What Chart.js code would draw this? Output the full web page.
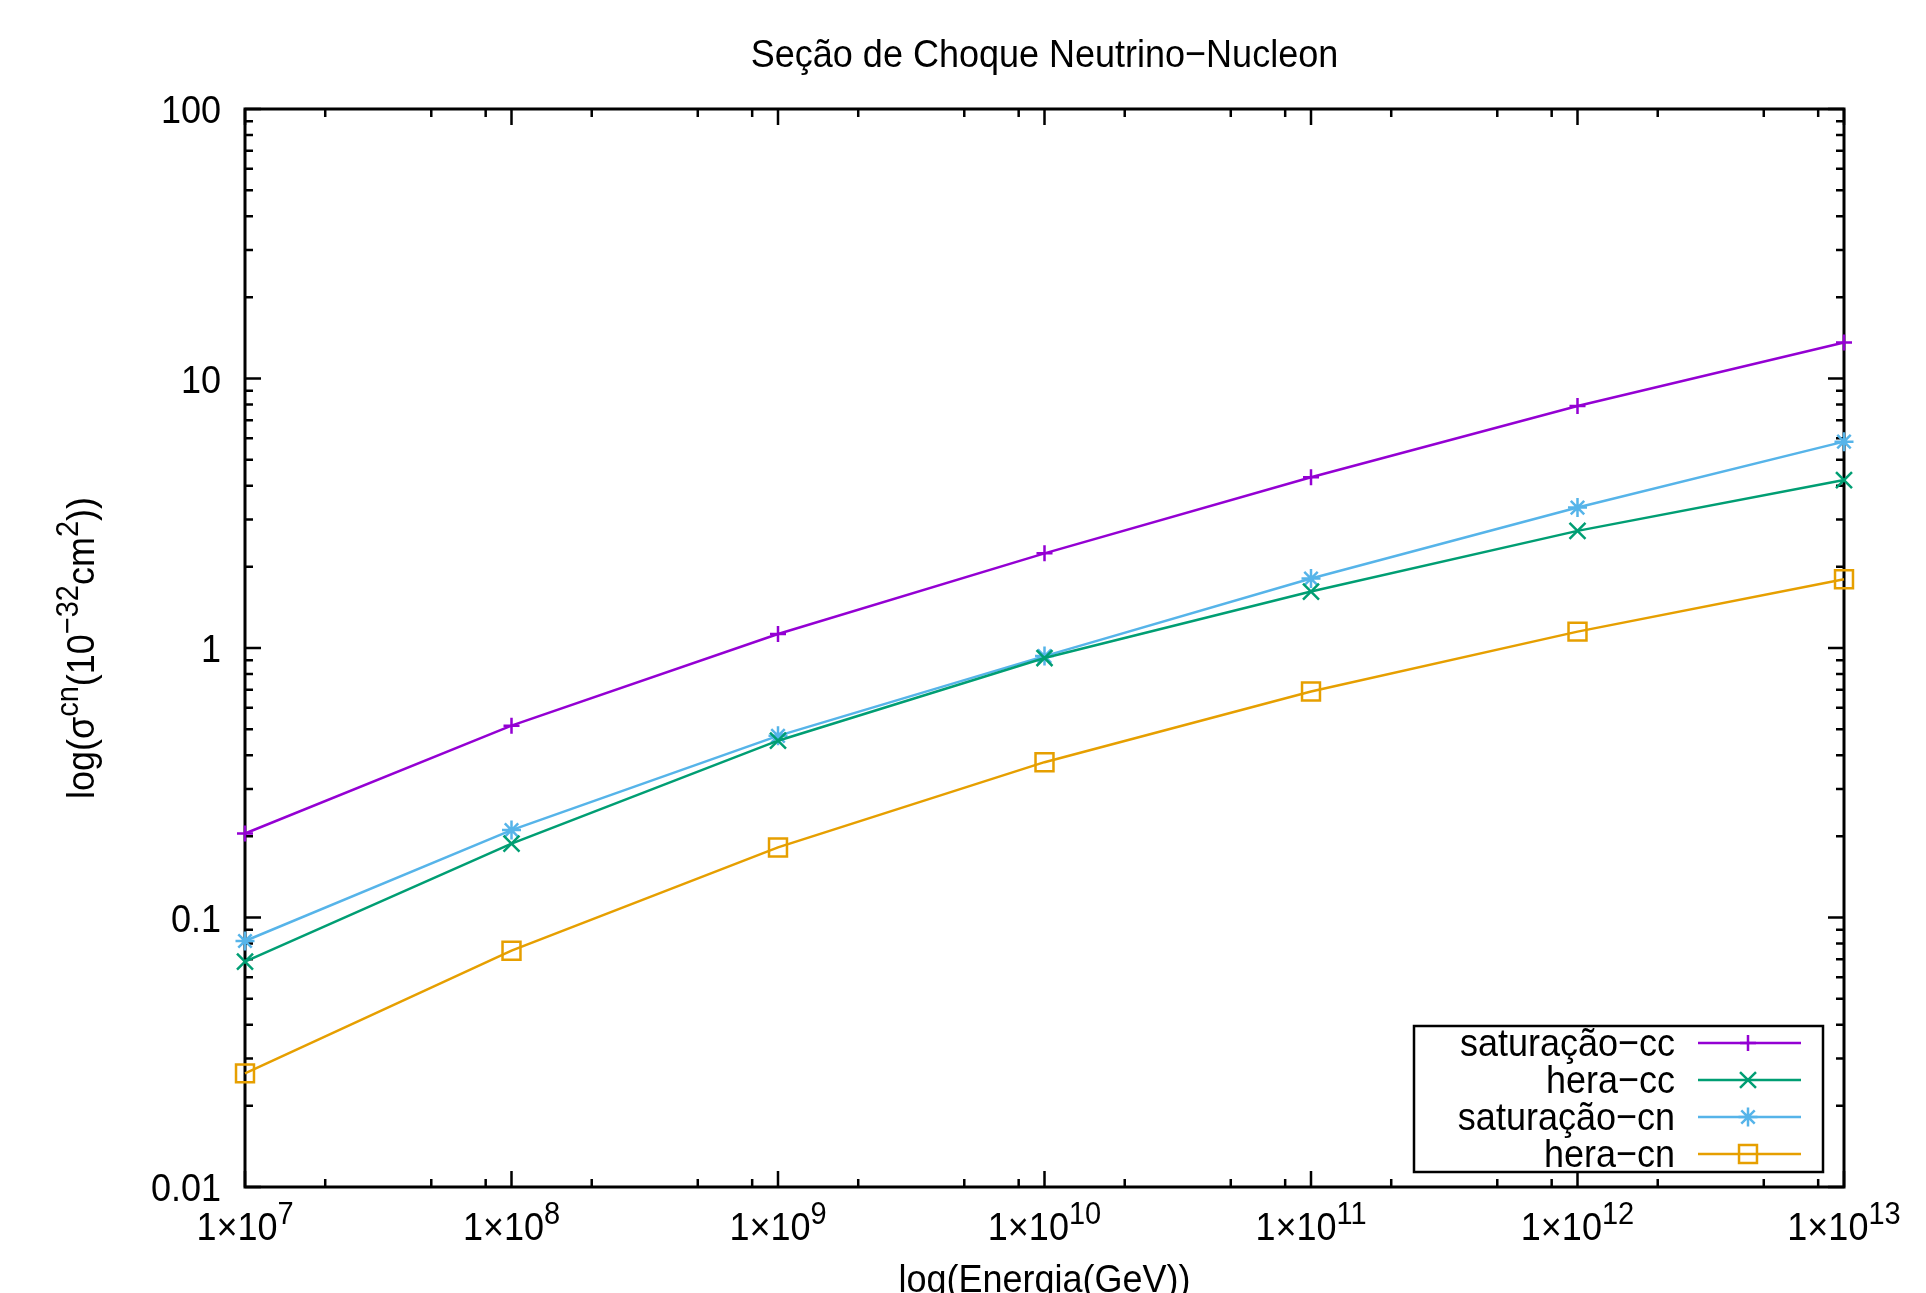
<!DOCTYPE html>
<html>
<head>
<meta charset="utf-8">
<script src="https://cdn.jsdelivr.net/npm/chart.js@4.4.1/dist/chart.umd.min.js"></script>
<style>
  html, body { margin: 0; padding: 0; background: #fff; }
  canvas { display: block; }
</style>
</head>
<body>
<canvas id="grafico" width="1926" height="1293"></canvas>
<script>
// energias (GeV) e secoes de choque (10^-32 cm^2)
const energias = [1e7, 1e8, 1e9, 1e10, 1e11, 1e12, 1e13];
const expoentesX = ['7', '8', '9', '10', '11', '12', '13'];
const saturacaoCC = [0.205, 0.515, 1.127, 2.245, 4.30, 7.91, 13.6];
const heraCC = [0.0686, 0.188, 0.453, 0.918, 1.62, 2.72, 4.20];
const saturacaoCN = [0.0818, 0.211, 0.472, 0.933, 1.81, 3.32, 5.83];
const heraCN = [0.0264, 0.0753, 0.182, 0.377, 0.690, 1.15, 1.80];
const ticksY = [0.01, 0.1, 1, 10, 100];
const rotulosY = ['0.01', '0.1', '1', '10', '100'];
const minorX = [2, 5, 8];
const minorY = [2, 3, 4, 5, 6, 7, 8, 9];
const nomes = ['saturação−cc', 'hera−cc', 'saturação−cn', 'hera−cn'];

const FONTE = "'Liberation Sans', Arial, sans-serif";
const TAM = 36;
const ESTICA = 1.1; // texto do gnuplot sai um pouco mais alto

function pontos(serie) {
  return energias.map((e, i) => ({ x: e, y: serie[i] }));
}

function serie(label, valores, cor, estilo, raio) {
  return {
    label: label,
    data: pontos(valores),
    borderColor: cor,
    backgroundColor: 'transparent',
    borderWidth: 2.5,
    pointStyle: estilo,
    pointRadius: raio,
    pointHoverRadius: raio,
    pointBorderColor: cor,
    pointBackgroundColor: 'transparent',
    pointBorderWidth: 2.5,
    tension: 0,
    clip: false
  };
}

// texto com partes em sobrescrito, centrado em x
function textoComSup(ctx, partes, cx, baseY, alinhamento) {
  const medidas = partes.map(p => {
    ctx.font = (p.sup ? Math.round(TAM * 0.8) : TAM) + 'px ' + FONTE;
    return ctx.measureText(p.t).width;
  });
  const total = medidas.reduce((a, b) => a + b, 0);
  let x = alinhamento === 'right' ? cx - total : cx - total / 2;
  partes.forEach((p, i) => {
    ctx.font = (p.sup ? Math.round(TAM * 0.8) : TAM) + 'px ' + FONTE;
    ctx.save();
    ctx.translate(x, p.sup ? baseY - TAM * 0.45 : baseY);
    ctx.scale(1, ESTICA);
    ctx.fillText(p.t, 0, 0);
    ctx.restore();
    x += medidas[i];
  });
}

const molduraPlugin = {
  id: 'moldura',
  beforeDatasetsDraw(chart) {
    const { ctx, chartArea: a, scales: { x, y } } = chart;
    ctx.save();
    ctx.strokeStyle = '#000';
    ctx.lineWidth = 2.5;
    ctx.beginPath();
    energias.forEach((v, i) => {
      const px = x.getPixelForValue(v);
      ctx.moveTo(px, a.bottom); ctx.lineTo(px, a.bottom - 16);
      ctx.moveTo(px, a.top); ctx.lineTo(px, a.top + 16);
      if (i < energias.length - 1) {
        minorX.forEach(f => {
          const pm = x.getPixelForValue(v * f);
          ctx.moveTo(pm, a.bottom); ctx.lineTo(pm, a.bottom - 8);
          ctx.moveTo(pm, a.top); ctx.lineTo(pm, a.top + 8);
        });
      }
    });
    ticksY.forEach((v, i) => {
      const py = y.getPixelForValue(v);
      ctx.moveTo(a.left, py); ctx.lineTo(a.left + 16, py);
      ctx.moveTo(a.right, py); ctx.lineTo(a.right - 16, py);
      if (i < ticksY.length - 1) {
        minorY.forEach(f => {
          const pm = y.getPixelForValue(v * f);
          ctx.moveTo(a.left, pm); ctx.lineTo(a.left + 8, pm);
          ctx.moveTo(a.right, pm); ctx.lineTo(a.right - 8, pm);
        });
      }
    });
    ctx.stroke();
    ctx.lineWidth = 3;
    ctx.strokeRect(a.left, a.top, a.width, a.height);
    ctx.restore();
  },
  afterDraw(chart) {
    const { ctx, chartArea: a, scales: { x, y } } = chart;
    ctx.save();
    ctx.fillStyle = '#000';
    ctx.textBaseline = 'alphabetic';

    // titulo
    textoComSup(ctx, [{ t: 'Seção de Choque Neutrino−Nucleon' }], (a.left + a.right) / 2, 67);

    // rotulos eixo y
    ticksY.forEach((v, i) => {
      const py = y.getPixelForValue(v);
      textoComSup(ctx, [{ t: rotulosY[i] }], 221, py + 14, 'right');
    });

    // rotulos eixo x
    energias.forEach((v, i) => {
      const px = x.getPixelForValue(v);
      textoComSup(ctx, [{ t: '1×10' }, { t: expoentesX[i], sup: true }], px, 1240);
    });

    // titulo eixo x
    textoComSup(ctx, [{ t: 'log(Energia(GeV))' }], (a.left + a.right) / 2, 1292);

    // titulo eixo y
    ctx.translate(94, (a.top + a.bottom) / 2);
    ctx.rotate(-Math.PI / 2);
    textoComSup(ctx, [
      { t: 'log(σ' }, { t: 'cn', sup: true }, { t: '(10' }, { t: '−32', sup: true },
      { t: 'cm' }, { t: '2', sup: true }, { t: '))' }
    ], 0, 0);
    ctx.restore();

    // legenda
    ctx.save();
    ctx.strokeStyle = '#000';
    ctx.lineWidth = 2.5;
    ctx.strokeRect(1414, 1026, 409, 146);
    chart.data.datasets.forEach((ds, i) => {
      const ly = 1043 + i * 37;
      ctx.fillStyle = '#000';
      textoComSup(ctx, [{ t: nomes[i] }], 1675, ly + 13, 'right');
      ctx.strokeStyle = ds.borderColor;
      ctx.lineWidth = 2.5;
      ctx.beginPath();
      ctx.moveTo(1698, ly); ctx.lineTo(1801, ly);
      ctx.stroke();
      ctx.fillStyle = 'transparent';
      Chart.helpers.drawPoint(ctx, {
        pointStyle: ds.pointStyle, radius: ds.pointRadius, rotation: 0, borderWidth: 2.5
      }, 1748, ly);
    });
    ctx.restore();
  }
};

const grafico = new Chart(document.getElementById('grafico').getContext('2d'), {
  type: 'line',
  data: {
    datasets: [
      serie(nomes[0], saturacaoCC, '#9400d3', 'cross', 8),
      serie(nomes[1], heraCC, '#009e73', 'crossRot', 11.3),
      serie(nomes[2], saturacaoCN, '#56b4e9', 'star', 9.5),
      serie(nomes[3], heraCN, '#e69f00', 'rect', 12.7)
    ]
  },
  options: {
    responsive: false,
    animation: false,
    layout: { padding: { left: 245, right: 82, top: 109, bottom: 106 } },
    plugins: { legend: { display: false }, title: { display: false }, tooltip: { enabled: false } },
    scales: {
      x: { type: 'logarithmic', min: 1e7, max: 1e13, display: false },
      y: { type: 'logarithmic', min: 0.01, max: 100, display: false }
    }
  },
  plugins: [molduraPlugin]
});
</script>
</body>
</html>
